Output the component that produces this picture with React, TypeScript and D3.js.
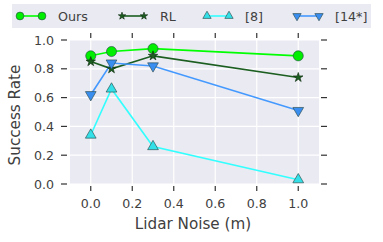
import React, { useEffect, useRef } from 'react';
import * as d3 from 'd3';

const noise = [0.0, 0.1, 0.3, 1.0];
const ours = [0.89, 0.92, 0.94, 0.89];
const rl = [0.85, 0.8, 0.89, 0.74];
const ref8 = [0.34, 0.66, 0.26, 0.03];
const ref14 = [0.62, 0.84, 0.82, 0.51];
const xTicks = [0.0, 0.2, 0.4, 0.6, 0.8, 1.0];
const yTicks = [0.0, 0.2, 0.4, 0.6, 0.8, 1.0];

const W = 383;
const H = 242;
const FONT = 'DejaVu Sans, sans-serif';
const TEXT = '#404040';

type Series = { name: string; values: number[]; line: string; fill: string; marker: 'circle' | 'star' | 'up' | 'down'; size: number };

const series: Series[] = [
  { name: 'Ours', values: ours, line: '#00ff00', fill: '#00ee00', marker: 'circle', size: 80 },
  { name: 'RL', values: rl, line: '#1b5e20', fill: '#1b5e20', marker: 'star', size: 28 },
  { name: '[8]', values: ref8, line: '#33ffff', fill: '#33e0e8', marker: 'up', size: 50 },
  { name: '[14*]', values: ref14, line: '#4499ff', fill: '#3a8ef0', marker: 'down', size: 50 },
];

const symbolPath = (s: Series) => {
  if (s.marker === 'circle') return d3.symbol(d3.symbolCircle, s.size)() as string;
  if (s.marker === 'star') return d3.symbol(d3.symbolStar, s.size)() as string;
  return d3.symbol(d3.symbolTriangle, s.size)() as string;
};

export default function App() {
  const svgRef = useRef<SVGSVGElement | null>(null);

  useEffect(() => {
    if (!svgRef.current) return;
    const svg = d3.select(svgRef.current);
    svg.selectAll('*').remove();

    const left = 70, right = 319, top = 40, bottom = 184;
    const x = d3.scaleLinear().domain([-0.1, 1.1]).range([left, right]);
    const y = d3.scaleLinear().domain([0, 1]).range([bottom, top]);

    svg.append('rect').attr('x', left).attr('y', top).attr('width', right - left).attr('height', bottom - top).attr('fill', '#eaeaf2');

    const grid = svg.append('g').attr('stroke', '#ffffff').attr('stroke-width', 1.2);
    xTicks.forEach(t => grid.append('line').attr('x1', x(t)).attr('x2', x(t)).attr('y1', top).attr('y2', bottom));
    yTicks.forEach(t => grid.append('line').attr('y1', y(t)).attr('y2', y(t)).attr('x1', left).attr('x2', right));

    const ticks = svg.append('g').attr('stroke', '#333333').attr('stroke-width', 1.2);
    xTicks.forEach(t => {
      ticks.append('line').attr('x1', x(t)).attr('x2', x(t)).attr('y1', bottom + 2).attr('y2', bottom + 7);
      ticks.append('line').attr('x1', x(t)).attr('x2', x(t)).attr('y1', top - 7).attr('y2', top - 2);
    });
    yTicks.forEach(t => {
      ticks.append('line').attr('y1', y(t)).attr('y2', y(t)).attr('x1', left - 9).attr('x2', left - 3);
      ticks.append('line').attr('y1', y(t)).attr('y2', y(t)).attr('x1', right + 2).attr('x2', right + 8);
    });

    const labels = svg.append('g').attr('font-family', FONT).attr('font-size', 12.6).attr('fill', TEXT);
    xTicks.forEach(t => labels.append('text').attr('x', x(t)).attr('y', 203).attr('dy', '0.36em').attr('text-anchor', 'middle').text(t.toFixed(1)));
    yTicks.forEach(t => labels.append('text').attr('x', 54).attr('y', y(t)).attr('dy', '0.36em').attr('text-anchor', 'end').text(t.toFixed(1)));

    svg.append('text').attr('x', 193).attr('y', 224).attr('dy', '0.36em').attr('text-anchor', 'middle')
      .attr('font-family', FONT).attr('font-size', 15.2).attr('fill', TEXT).text('Lidar Noise (m)');
    svg.append('text').attr('transform', `translate(15,${(top + bottom) / 2 + 3}) rotate(-90)`).attr('text-anchor', 'middle')
      .attr('dy', '0.36em').attr('font-family', FONT).attr('font-size', 15.2).attr('fill', TEXT).text('Success Rate');

    const line = d3.line<number>().x((_, i) => x(noise[i])).y(d => y(d));

    const drawMarker = (g: d3.Selection<SVGGElement, unknown, null, undefined>, s: Series, cx: number, cy: number) => {
      const rot = s.marker === 'down' ? 180 : 0;
      g.append('path')
        .attr('d', symbolPath(s))
        .attr('transform', `translate(${cx},${cy}) rotate(${rot})`)
        .attr('fill', s.fill)
        .attr('stroke', s.marker === 'star' ? '#0e2e10' : '#2a4a4a')
        .attr('stroke-opacity', 0.8)
        .attr('stroke-width', 0.8);
    };

    const plot = svg.append('g');
    series.forEach(s => {
      plot.append('path').datum(s.values).attr('d', line as any).attr('fill', 'none').attr('stroke', s.line).attr('stroke-width', 1.6);
    });
    series.forEach(s => {
      const mg = plot.append('g');
      s.values.forEach((v, i) => drawMarker(mg, s, x(noise[i]), y(v)));
    });

    // legend
    const lg = svg.append('g');
    lg.append('rect').attr('x', 12).attr('y', 4).attr('width', 359).attr('height', 24).attr('fill', '#eaeaf2');
    const legendX = [20, 122, 207, 297];
    series.forEach((s, i) => {
      const lx = legendX[i];
      const g = lg.append('g');
      g.append('line').attr('x1', lx).attr('x2', lx + 22).attr('y1', 16).attr('y2', 16).attr('stroke', s.line).attr('stroke-width', 1.6);
      drawMarker(g, { ...s, size: s.size * 0.6 }, lx, 16);
      drawMarker(g, { ...s, size: s.size * 0.6 }, lx + 22, 16);
      g.append('text').attr('x', lx + 38).attr('y', 16).attr('dy', '0.36em')
        .attr('font-family', FONT).attr('font-size', 12.7).attr('fill', TEXT).text(s.name);
    });
  }, []);

  return (
    <div style={{ position: 'absolute', left: 0, top: 0 }}>
      <svg ref={svgRef} width={W} height={H} style={{ display: 'block', background: '#ffffff' }} />
    </div>
  );
}
